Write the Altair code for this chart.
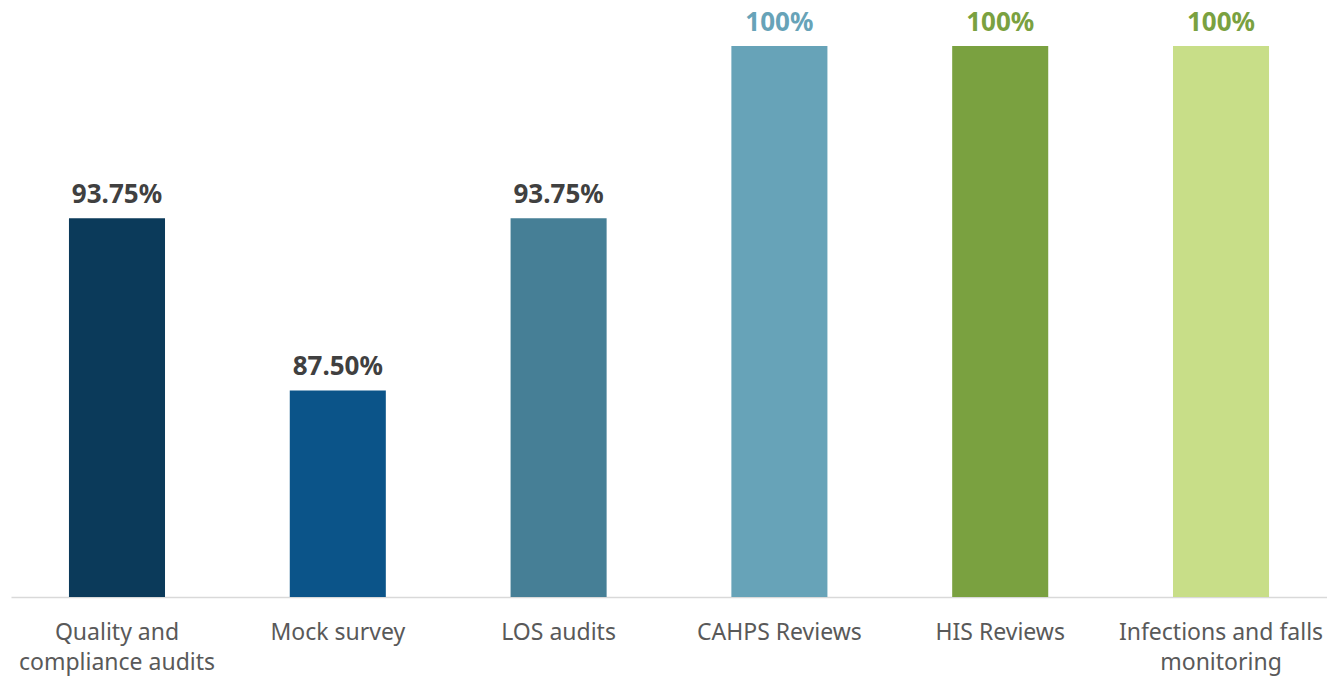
import altair as alt
import pandas as pd
import json

categories = ["Quality and compliance audits", "Mock survey", "LOS audits",
              "CAHPS Reviews", "HIS Reviews", "Infections and falls monitoring"]
values = [93.75, 87.50, 93.75, 100, 100, 100]
value_labels = ["93.75%", "87.50%", "93.75%", "100%", "100%", "100%"]
bar_colors = ["#0b3a5a", "#0b5489", "#467f96", "#67a3b8", "#7aa140", "#c8de88"]
label_colors = ["#404040", "#404040", "#404040", "#67a3b8", "#7aa140", "#7aa140"]
axis_lines = [["Quality and", "compliance audits"], ["Mock survey"], ["LOS audits"],
              ["CAHPS Reviews"], ["HIS Reviews"], ["Infections and falls", "monitoring"]]
y_min = 80
y_max = 101.38

df = pd.DataFrame({
    "category": categories,
    "value": values,
    "vlabel": value_labels,
    "bcolor": bar_colors,
    "lcolor": label_colors,
})

mapping = {c: l for c, l in zip(categories, axis_lines)}
label_expr = json.dumps(mapping) + "[datum.label]"

FONT = "Noto Sans"

x = alt.X("category:N", sort=categories, title=None,
          scale=alt.Scale(paddingInner=0.565, paddingOuter=0.2625),
          axis=alt.Axis(labelAngle=0, ticks=False, labelPadding=24, labelLimit=400,
                        labelFontSize=23, labelFont=FONT, labelColor="#595959",
                        labelLineHeight=30, domainColor="#d9d9d9", domainWidth=1.5,
                        labelExpr=label_expr))
y = alt.Y("value:Q", scale=alt.Scale(domain=[y_min, y_max], nice=False, zero=False),
          axis=None)

base = alt.Chart(df).encode(x=x, y=y)

bars = base.mark_bar().encode(y2=alt.datum(y_min),
                              color=alt.Color("bcolor:N", scale=None))
text = base.mark_text(baseline="alphabetic", dy=-15, fontSize=26,
                      fontWeight="bold", font=FONT).encode(
    text="vlabel:N", color=alt.Color("lcolor:N", scale=None))

chart = (bars + text).properties(
    width=1316, height=589,
    padding={"left": 3, "top": 0, "right": 0, "bottom": 3},
    background="white"
).configure_view(stroke=None)

chart.save("out.html", embed_options={"renderer": "svg", "actions": False})
